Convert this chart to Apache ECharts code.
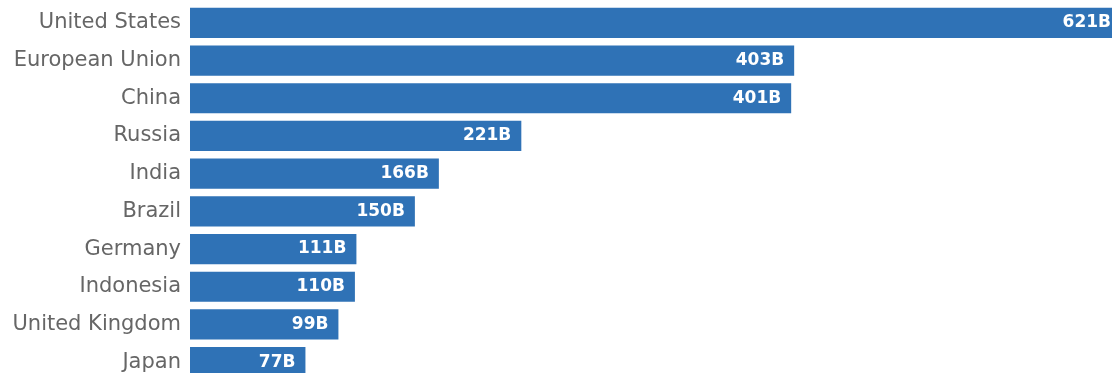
<!DOCTYPE html>
<html>
<head>
<meta charset="utf-8">
<script src="https://cdn.jsdelivr.net/npm/echarts@6/dist/echarts.min.js"></script>
<style>
  html, body { margin: 0; padding: 0; background: #fff; overflow: hidden; }
  #wrap { width: 1112px; height: 373px; overflow: hidden; }
  #chart { width: 1130px; height: 384px; }
</style>
</head>
<body>
<div id="wrap"><div id="chart"></div></div>
<script>
// Top emitters, values in billions
const countries = ["United States", "European Union", "China", "Russia", "India", "Brazil", "Germany", "Indonesia", "United Kingdom", "Japan"];
const values = [621, 403, 401, 221, 166, 150, 111, 110, 99, 77];

const chart = echarts.init(document.getElementById('chart'), null, { renderer: 'canvas' });
chart.setOption({
  animation: false,
  grid: { left: 190, width: 931, top: 4, height: 377, containLabel: false },
  xAxis: { type: 'value', min: 0, max: 621, show: false },
  yAxis: {
    type: 'category',
    inverse: true,
    data: countries,
    axisLine: { show: false },
    axisTick: { show: false },
    axisLabel: {
      color: '#666666',
      fontFamily: '"DejaVu Sans", sans-serif',
      fontSize: 21,
      margin: 9
    }
  },
  series: [{
    type: 'bar',
    data: values,
    barCategoryGap: '20%',
    itemStyle: { color: '#2f72b6' },
    label: {
      show: true,
      position: 'insideRight',
      distance: 10,
      color: '#ffffff',
      fontFamily: '"DejaVu Sans", sans-serif',
      fontWeight: 'bold',
      fontSize: 17,
      formatter: p => p.value + 'B'
    }
  }]
});
</script>
</body>
</html>
